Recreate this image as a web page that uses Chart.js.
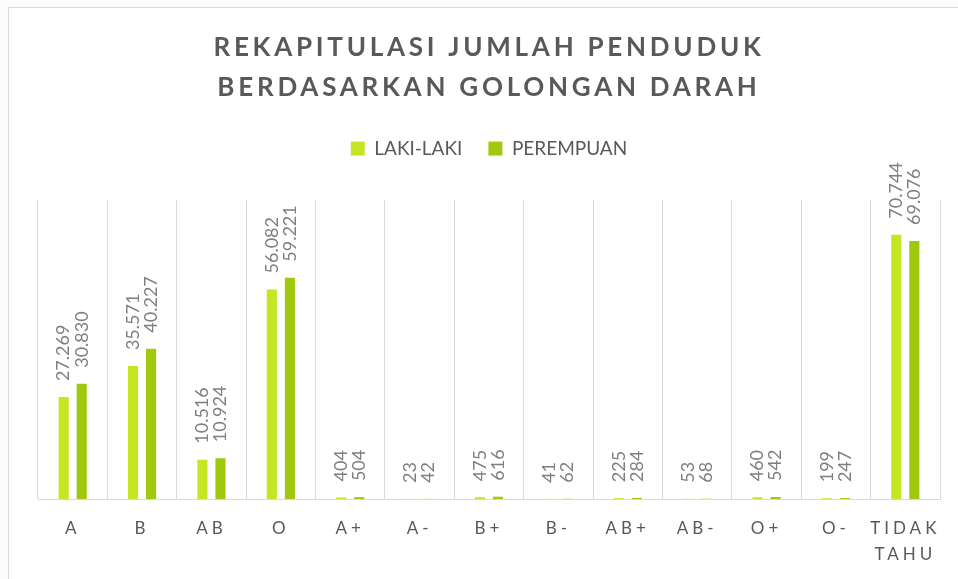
<!DOCTYPE html>
<html>
<head>
<meta charset="utf-8">
<script src="https://cdn.jsdelivr.net/npm/chart.js@4/dist/chart.umd.min.js"></script>
<style>
    html, body { margin: 0; padding: 0; background: #fcfcfc; }
    .frame {
        position: absolute; left: 8px; top: 7px; width: 980px; height: 600px;
        border: 1px solid #d9d9d9; background: #fff;
    }
    .wrap { position: absolute; left: 0; top: 0; width: 958px; height: 579px; }
</style>
</head>
<body>
<div class="frame"></div>
<div class="wrap"><canvas id="myChart"></canvas></div>
<script>
// data
const categories = ['A', 'B', 'AB', 'O', 'A+', 'A-', 'B+', 'B-', 'AB+', 'AB-', 'O+', 'O-', ['TIDAK', 'TAHU']];
const lakiLaki = [27269, 35571, 10516, 56082, 404, 23, 475, 41, 225, 53, 460, 199, 70744];
const perempuan = [30830, 40227, 10924, 59221, 504, 42, 616, 62, 284, 68, 542, 247, 69076];
const seriesNames = ['LAKI-LAKI', 'PEREMPUAN'];
const titleLines = ['REKAPITULASI JUMLAH PENDUDUK', 'BERDASARKAN GOLONGAN DARAH'];
const yMax = 80000;

function formatNumber(v) {
    return v.toString().replace(/\B(?=(\d{3})+(?!\d))/g, '.');
}

// letter spacing for the title and the x labels, extra room under the legend
const spacingPlugin = {
    id: 'spacing',
    beforeLayout(chart) {
        const legend = chart.legend;
        if (legend && !legend._padFit) {
            const fit = legend.fit;
            legend.fit = function() {
                fit.call(this);
                this.height += 32;
            };
            legend._padFit = true;
        }
    },
    beforeDraw(chart) {
        const ctx = chart.ctx;
        const title = chart.titleBlock;
        if (title && !title._spaced) {
            const draw = title.draw;
            title.draw = function(area) {
                ctx.save();
                ctx.letterSpacing = '3.75px';
                draw.call(this, area);
                ctx.restore();
            };
            title._spaced = true;
        }
        const x = chart.scales.x;
        if (x && !x._spaced) {
            const drawLabels = x.drawLabels;
            x.drawLabels = function(area) {
                ctx.save();
                ctx.letterSpacing = '4px';
                drawLabels.call(this, area);
                ctx.restore();
            };
            x._spaced = true;
        }
    }
};

// rotated value labels above every bar
const valueLabels = {
    id: 'valueLabels',
    afterDatasetsDraw(chart) {
        const ctx = chart.ctx;
        ctx.save();
        ctx.font = '18px Lato';
        ctx.fillStyle = '#7f7f7f';
        ctx.textAlign = 'left';
        ctx.textBaseline = 'middle';
        chart.data.datasets.forEach((ds, i) => {
            const meta = chart.getDatasetMeta(i);
            meta.data.forEach((bar, j) => {
                ctx.save();
                ctx.translate(bar.x, bar.y - 16);
                ctx.rotate(-Math.PI / 2);
                ctx.fillText(formatNumber(ds.data[j]), 0, 0);
                ctx.restore();
            });
        });
        ctx.restore();
    }
};

const ctx = document.getElementById('myChart');
const myChart = new Chart(ctx, {
    type: 'bar',
    data: {
        labels: categories,
        datasets: [{
            label: seriesNames[0],
            data: lakiLaki,
            backgroundColor: '#c5e622',
            borderWidth: 0,
            categoryPercentage: 0.52,
            barPercentage: 0.56
        }, {
            label: seriesNames[1],
            data: perempuan,
            backgroundColor: '#9ec90c',
            borderWidth: 0,
            categoryPercentage: 0.52,
            barPercentage: 0.56
        }]
    },
    options: {
        responsive: true,
        maintainAspectRatio: false,
        animation: false,
        layout: {
            padding: { left: 38, right: 18, top: 0, bottom: 0 }
        },
        plugins: {
            title: {
                display: true,
                text: titleLines,
                color: '#595959',
                font: { family: 'Lato', size: 26, weight: 'bold', lineHeight: 1.54 },
                padding: { top: 28, bottom: 5 }
            },
            legend: {
                display: true,
                labels: {
                    color: '#595959',
                    font: { family: 'Lato', size: 19 },
                    boxWidth: 14,
                    boxHeight: 14,
                    padding: 26
                }
            },
            tooltip: { enabled: false }
        },
        scales: {
            x: {
                grid: { display: true, color: '#d9d9d9', lineWidth: 1, drawTicks: false, offset: true },
                border: { display: true, color: '#d9d9d9', width: 1 },
                ticks: {
                    color: '#595959',
                    font: { family: 'Lato', size: 17, lineHeight: 1.56 },
                    padding: 16,
                    autoSkip: false,
                    maxRotation: 0
                },
                afterFit(scale) {
                    scale.height = 80;
                }
            },
            y: {
                display: false,
                min: 0,
                max: yMax
            }
        }
    },
    plugins: [spacingPlugin, valueLabels]
});
</script>
</body>
</html>
